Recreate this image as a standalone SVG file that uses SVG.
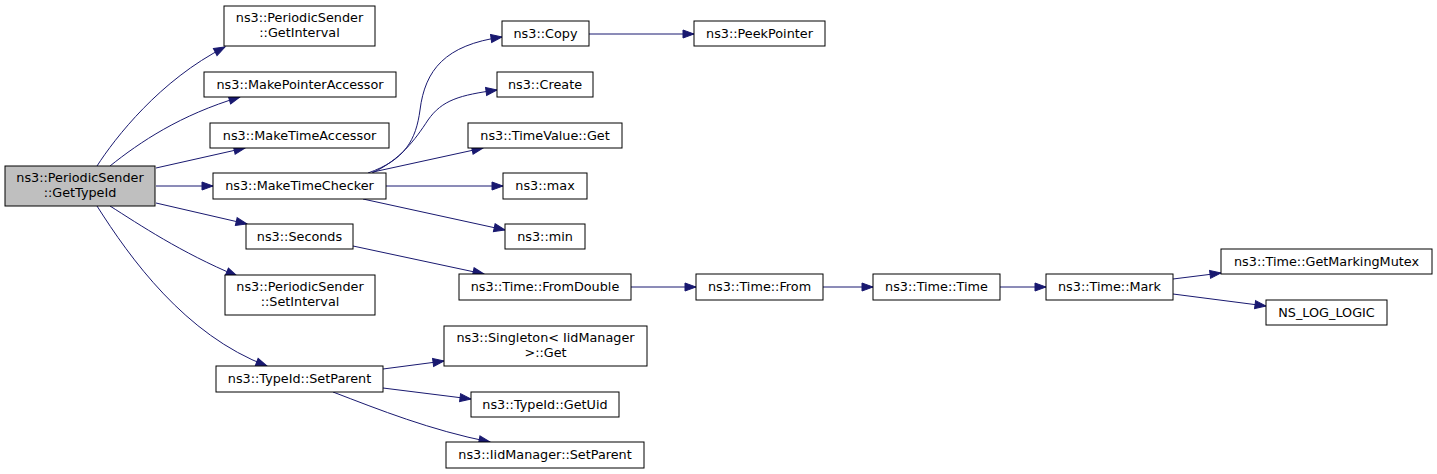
<svg xmlns="http://www.w3.org/2000/svg" width="1437" height="474" viewBox="0 0 1437 474">
<defs>
<style>
.n rect{fill:#ffffff;stroke:#000000;stroke-width:1}
.n.root rect{fill:#bfbfbf}
.n text{font-family:"DejaVu Sans","Liberation Sans",sans-serif;font-size:12.8px;fill:#000000;text-anchor:middle}
.e path{fill:none;stroke:#191970;stroke-width:1}
</style>
<marker id="ah" markerUnits="userSpaceOnUse" markerWidth="14" markerHeight="12" refX="11" refY="4" orient="auto" overflow="visible">
<path d="M0,0 L11,4 L0,8 z" fill="#191970" stroke="#191970" stroke-width="1"/>
</marker>
</defs>
<rect x="0" y="0" width="1437" height="474" fill="#ffffff"/>
<g id="edges" class="e">
<path marker-end="url(#ah)" d="M97,166 C115,138 160,80 225,47"/>
<path marker-end="url(#ah)" d="M110,166 C140,142 180,115 240,97"/>
<path marker-end="url(#ah)" d="M156,168 L245,148"/>
<path marker-end="url(#ah)" d="M156,186 L213,186"/>
<path marker-end="url(#ah)" d="M156,203 L247,224"/>
<path marker-end="url(#ah)" d="M110,206 C140,225 180,252 237,276"/>
<path marker-end="url(#ah)" d="M97,206 C130,258 185,335 267,366"/>
<path marker-end="url(#ah)" d="M368,173 C405,160 416,140 420,110 C425,70 445,45 502,37"/>
<path marker-end="url(#ah)" d="M372,173 C400,160 415,140 428,120 C442,100 460,95 497,90"/>
<path marker-end="url(#ah)" d="M373,172 L483,148"/>
<path marker-end="url(#ah)" d="M386,186 L503,186"/>
<path marker-end="url(#ah)" d="M363,199 L505,230"/>
<path marker-end="url(#ah)" d="M589,34 L694,34"/>
<path marker-end="url(#ah)" d="M353,246 L484,274"/>
<path marker-end="url(#ah)" d="M631,287 L696,287"/>
<path marker-end="url(#ah)" d="M823,287 L873,287"/>
<path marker-end="url(#ah)" d="M1000,287 L1046,287"/>
<path marker-end="url(#ah)" d="M1173,279 L1221,273"/>
<path marker-end="url(#ah)" d="M1173,294 L1266,306"/>
<path marker-end="url(#ah)" d="M383,369 L444,361"/>
<path marker-end="url(#ah)" d="M383,388 L471,399"/>
<path marker-end="url(#ah)" d="M333,392 C380,410 430,430 490,442"/>
</g>
<g id="node_root" class="n root"><rect x="5" y="166" width="150" height="40"/><text x="80" y="182">ns3::PeriodicSender</text><text x="80" y="197">::GetTypeId</text></g>
<g id="node_getinterval" class="n"><rect x="224" y="6" width="151" height="40"/><text x="299.5" y="22">ns3::PeriodicSender</text><text x="299.5" y="37">::GetInterval</text></g>
<g id="node_makepointeraccessor" class="n"><rect x="204" y="72" width="192" height="25"/><text x="300" y="89">ns3::MakePointerAccessor</text></g>
<g id="node_maketimeaccessor" class="n"><rect x="210" y="123" width="179" height="25"/><text x="299.5" y="140">ns3::MakeTimeAccessor</text></g>
<g id="node_maketimechecker" class="n"><rect x="213" y="173" width="173" height="26"/><text x="299.5" y="190">ns3::MakeTimeChecker</text></g>
<g id="node_seconds" class="n"><rect x="246" y="224" width="107" height="25"/><text x="299.5" y="241">ns3::Seconds</text></g>
<g id="node_setinterval" class="n"><rect x="225" y="275" width="150" height="40"/><text x="300" y="291">ns3::PeriodicSender</text><text x="300" y="306">::SetInterval</text></g>
<g id="node_typeid_setparent" class="n"><rect x="216" y="366" width="167" height="26"/><text x="299.5" y="383">ns3::TypeId::SetParent</text></g>
<g id="node_copy" class="n"><rect x="502" y="21" width="87" height="25"/><text x="545.5" y="38">ns3::Copy</text></g>
<g id="node_peekpointer" class="n"><rect x="694" y="21" width="131" height="25"/><text x="759.5" y="38">ns3::PeekPointer</text></g>
<g id="node_create" class="n"><rect x="497" y="72" width="96" height="25"/><text x="545" y="89">ns3::Create</text></g>
<g id="node_timevalue_get" class="n"><rect x="468" y="123" width="154" height="25"/><text x="545" y="140">ns3::TimeValue::Get</text></g>
<g id="node_max" class="n"><rect x="503" y="173" width="84" height="26"/><text x="545" y="190">ns3::max</text></g>
<g id="node_min" class="n"><rect x="505" y="224" width="80" height="25"/><text x="545" y="241">ns3::min</text></g>
<g id="node_fromdouble" class="n"><rect x="459" y="274" width="172" height="26"/><text x="545" y="291">ns3::Time::FromDouble</text></g>
<g id="node_from" class="n"><rect x="696" y="274" width="127" height="26"/><text x="759.5" y="291">ns3::Time::From</text></g>
<g id="node_time" class="n"><rect x="873" y="274" width="127" height="26"/><text x="936.5" y="291">ns3::Time::Time</text></g>
<g id="node_mark" class="n"><rect x="1046" y="274" width="127" height="26"/><text x="1109.5" y="291">ns3::Time::Mark</text></g>
<g id="node_getmarkingmutex" class="n"><rect x="1221" y="249" width="211" height="25"/><text x="1326.5" y="266">ns3::Time::GetMarkingMutex</text></g>
<g id="node_ns_log_logic" class="n"><rect x="1266" y="300" width="121" height="25"/><text x="1326.5" y="317">NS_LOG_LOGIC</text></g>
<g id="node_singleton_get" class="n"><rect x="444" y="326" width="203" height="40"/><text x="545.5" y="342">ns3::Singleton&lt; IidManager</text><text x="545.5" y="357">&gt;::Get</text></g>
<g id="node_getuid" class="n"><rect x="471" y="392" width="148" height="25"/><text x="545" y="409">ns3::TypeId::GetUid</text></g>
<g id="node_iidmanager_setparent" class="n"><rect x="446" y="442" width="198" height="26"/><text x="545" y="459">ns3::IidManager::SetParent</text></g>
</svg>
